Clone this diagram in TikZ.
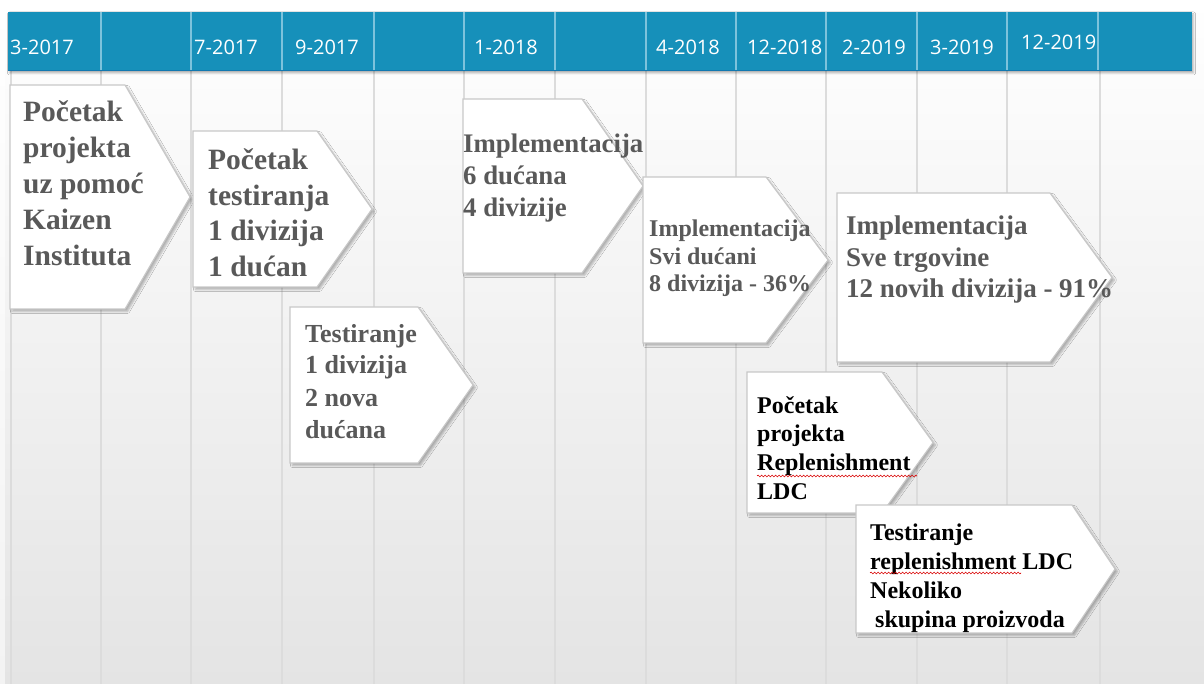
\documentclass[tikz,border=0pt]{standalone}
\usepackage{fontspec}
\setmainfont{Liberation Serif}
\newfontfamily\headfont{Open Sans}
\newfontfamily\callfont{Liberation Serif}
\usetikzlibrary{shadows.blur,decorations.pathmorphing}
\definecolor{barblue}{HTML}{1690BA}
\definecolor{bardark}{HTML}{1278B0}
\definecolor{barline}{HTML}{7DC3DC}
\definecolor{gridgray}{HTML}{DCDCDC}
\definecolor{boxedge}{HTML}{C8C8C8}
\definecolor{txtgray}{HTML}{595959}
\definecolor{planebot}{HTML}{E4E4E4}
\definecolor{stripbot}{HTML}{F3F3F3}

% one arrow-shaped callout: left x, top y, notch x, tip x, bottom y
\newcommand\callshape[5]{%
  \path[callbox] (#1,#2) -- (#3,#2) -- (#4,{(#2+#5)/2}) -- (#3,#5) -- (#1,#5) -- cycle;}

\begin{document}
\begin{tikzpicture}[x=1pt,y=-1pt,
  headlab/.style={anchor=base west,inner sep=0pt,text=white,
    font=\headfont\fontsize{20}{24}\selectfont},
  callbox/.style={fill=white,draw=boxedge,line width=1.1pt,line join=miter,
    blur shadow={shadow xshift=2.5pt,shadow yshift=-2.5pt,shadow blur radius=2pt,shadow opacity=28}},
  calltext/.style={anchor=base west,inner sep=0pt,text=txtgray},
  spellmark/.style={red!85!black,line width=0.6pt,decorate,
    decoration={snake,amplitude=0.9pt,segment length=3.5pt}}]

\useasboundingbox (0,0) rectangle (1204,684);

% background plane with a soft vertical gradient
\fill[white] (0,0) rectangle (1204,684);
\shade[top color=white,bottom color=stripbot] (0,0) rectangle (5,684);
\shade[top color=white,bottom color=planebot] (5,0) rectangle (1204,684);

% column grid lines
\foreach \gx in {11,101,191,282,374,464,555,646,736,826,917,1007,1100}
  \draw[gridgray,line width=1.8pt] (\gx,71) -- (\gx,684);

% timeline header bar
\fill[barblue,blur shadow={shadow xshift=1.5pt,shadow yshift=-2pt,shadow blur radius=2pt,shadow opacity=30}]
  (8,12) rectangle (1192,71);
\draw[bardark,line width=1pt] (8,70.5) -- (1192,70.5);
\foreach \gx in {101,191,282,374,464,555,646,736,826,917,1007,1098}
  \draw[barline,line width=1.2pt] (\gx,12) -- (\gx,70);

\node[headlab] (h1)  at (10,55)   {3-2017};
\node[headlab] (h2)  at (194,55)  {7-2017};
\node[headlab] (h3)  at (295,55)  {9-2017};
\node[headlab] (h4)  at (474,55)  {1-2018};
\node[headlab] (h5)  at (656,55)  {4-2018};
\node[headlab] (h6)  at (747,55)  {12-2018};
\node[headlab] (h7)  at (842,55)  {2-2019};
\node[headlab] (h8)  at (930,55)  {3-2019};
\node[headlab] (h9)  at (1021,50) {12-2019};

% milestone callouts
\callshape{10}{85}{125}{190}{309}
\node[calltext,font=\callfont\bfseries\fontsize{29.5}{36}\selectfont] (c1) at (23,122)
  {\begin{tabular}[t]{@{}l@{}}Početak\\projekta\\uz pomoć\\Kaizen\\Instituta\end{tabular}};

\callshape{193}{131}{317}{372}{287}
\node[calltext,font=\callfont\bfseries\fontsize{29.5}{35.5}\selectfont] (c2) at (208,170)
  {\begin{tabular}[t]{@{}l@{}}Početak\\testiranja\\1 divizija\\1 dućan\end{tabular}};

\callshape{290}{307}{418}{473}{463}
\node[calltext,font=\callfont\bfseries\fontsize{26}{32}\selectfont] (c3) at (305,342)
  {\begin{tabular}[t]{@{}l@{}}Testiranje\\1 divizija\\2 nova\\dućana\end{tabular}};

\callshape{463}{99}{582}{643}{273}
\node[calltext,font=\callfont\bfseries\fontsize{26.8}{32}\selectfont] (c4) at (463,153)
  {\begin{tabular}[t]{@{}l@{}}Implementacija\\6 dućana\\4 divizije\end{tabular}};

\callshape{643}{177}{766}{828}{343}
\node[calltext,font=\callfont\bfseries\fontsize{24}{27.5}\selectfont] (c5) at (649,237)
  {\begin{tabular}[t]{@{}l@{}}Implementacija\\Svi dućani\\8 divizija - 36\%\end{tabular}};

\callshape{837}{193}{1050}{1112}{362}
\node[calltext,font=\callfont\bfseries\fontsize{27}{31.5}\selectfont] (c6) at (846,235)
  {\begin{tabular}[t]{@{}l@{}}Implementacija\\Sve trgovine\\12 novih divizija - 91\%\end{tabular}};

\callshape{747}{372}{882}{933}{513}
\node[calltext,text=black,font=\callfont\bfseries\fontsize{24}{28.7}\selectfont] (c7) at (757,413)
  {\begin{tabular}[t]{@{}l@{}}Početak\\projekta\\Replenishment\\LDC\end{tabular}};
\draw[spellmark] (757,476) -- (917,476);

\callshape{856}{505}{1072}{1115}{633}
\node[calltext,text=black,font=\callfont\bfseries\fontsize{24}{29}\selectfont] (c8) at (870,540)
  {\begin{tabular}[t]{@{}l@{}}Testiranje\\replenishment LDC\\Nekoliko\\\hspace{5pt}skupina proizvoda\end{tabular}};
\draw[spellmark] (870,573) -- (1021,573);

\end{tikzpicture}
\end{document}
